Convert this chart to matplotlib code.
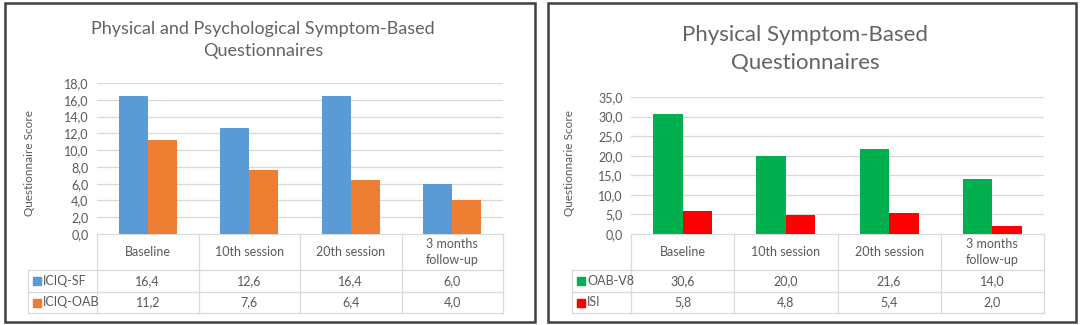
import matplotlib.pyplot as plt
import matplotlib.transforms as mtransforms
from matplotlib.patches import Rectangle

plt.rcParams["font.family"] = ["Lato", "DejaVu Sans"]

CATEGORIES = ["Baseline", "10th session", "20th session", "3 months\nfollow-up"]

LEFT_TITLE = "Physical and Psychological Symptom-Based\nQuestionnaires"
LEFT_YLABEL = "Questionnaire Score"
LEFT_SERIES = ["ICIQ-SF", "ICIQ-OAB"]
ICIQ_SF = [16.4, 12.6, 16.4, 6.0]
ICIQ_OAB = [11.2, 7.6, 6.4, 4.0]
LEFT_YMAX = 18
LEFT_YSTEP = 2

RIGHT_TITLE = "Physical Symptom-Based\nQuestionnaires"
RIGHT_YLABEL = "Questionnarie Score"
RIGHT_SERIES = ["OAB-V8", "ISI"]
OAB_V8 = [30.6, 20.0, 21.6, 14.0]
ISI = [5.8, 4.8, 5.4, 2.0]
RIGHT_YMAX = 35
RIGHT_YSTEP = 5

TEXT = "#595959"
GRID = "#D9D9D9"
W, H = 1080, 325


def fx(px):
    return px / W


def fy(px_from_top):
    return 1 - px_from_top / H


def fmt(v):
    return f"{v:.1f}".replace(".", ",")


def panel(fig, box, ax_rect, title, title_xy, title_size, ylabel, ylabel_x,
          names, series, colors, ymax, ystep, legend_left):
    x0, y0, x1, y1 = box
    fig.patches.append(Rectangle((fx(x0), fy(y1)), fx(x1 - x0), (y1 - y0) / H,
                                 transform=fig.transFigure, fill=False,
                                 edgecolor="#3F3F3F", lw=1.8))
    ax = fig.add_axes(ax_rect)
    xs = range(len(CATEGORIES))
    bw = 0.285
    for i, (vals, c) in enumerate(zip(series, colors)):
        ax.bar([x + (i - 0.5) * bw for x in xs], vals, width=bw, color=c, zorder=3)
    ax.set_xlim(-0.5, len(CATEGORIES) - 0.5)
    ax.set_ylim(0, ymax)
    ticks = list(range(0, ymax + 1, ystep))
    ax.set_yticks(ticks)
    ax.set_yticklabels([fmt(t) for t in ticks], color=TEXT, fontsize=9)
    ax.tick_params(axis="y", length=0, pad=6)
    ax.set_xticks([])
    ax.grid(axis="y", color=GRID, lw=0.9, zorder=0)
    for s in ["left", "right", "top"]:
        ax.spines[s].set_visible(False)
    ax.spines["bottom"].set_color(GRID)
    ax.set_ylabel(ylabel, color=TEXT, fontsize=8.5)
    ax.yaxis.set_label_coords(ylabel_x, 0.5, transform=fig.transFigure)
    fig.text(fx(title_xy[0]), fy(title_xy[1]), title, ha="center", va="center",
             fontsize=title_size, color="#636363", linespacing=1.45)

    # data table below the plot
    tr = mtransforms.blended_transform_factory(ax.transData, fig.transFigure)
    top, hdr, r1, r2 = fy(234), fy(270), fy(292), fy(313)
    n = len(CATEGORIES)
    kw = dict(color=GRID, lw=0.9, clip_on=False)
    for b in [k - 0.5 for k in range(n + 1)]:
        ax.plot([b, b], [top, r2], transform=tr, **kw)
    for yy in [hdr, r1, r2]:
        ax.plot([-0.5, n - 0.5], [yy, yy], transform=tr, **kw)
        fig.lines.append(plt.Line2D([fx(legend_left), ax_rect[0]], [yy, yy],
                                    transform=fig.transFigure, color=GRID, lw=0.9))
    fig.lines.append(plt.Line2D([fx(legend_left)] * 2, [hdr, r2],
                                transform=fig.transFigure, color=GRID, lw=0.9))
    for k, cat in enumerate(CATEGORIES):
        ax.text(k, (top + hdr) / 2, cat, transform=tr, ha="center", va="center",
                fontsize=9, color=TEXT, linespacing=1.3)
    for (ya, yb), name, vals, c in zip([(hdr, r1), (r1, r2)], names, series, colors):
        ym = (ya + yb) / 2
        for k, v in enumerate(vals):
            ax.text(k, ym, fmt(v), transform=tr, ha="center", va="center",
                    fontsize=9, color=TEXT)
        fig.patches.append(Rectangle((fx(legend_left + 5), ym - 4 / H), fx(8), 8 / H,
                                     transform=fig.transFigure, color=c))
        fig.text(fx(legend_left + 15), ym, name, ha="left", va="center",
                 fontsize=9, color=TEXT)
    return ax


fig = plt.figure(figsize=(W / 100, H / 100), dpi=100)

panel(fig, (5, 3, 535, 322), [fx(97), fy(234), fx(406), 151 / H],
      LEFT_TITLE, (263, 40), 13, LEFT_YLABEL, fx(35),
      LEFT_SERIES, [ICIQ_SF, ICIQ_OAB], ["#5B9BD5", "#ED7D31"],
      LEFT_YMAX, LEFT_YSTEP, 28)

panel(fig, (548, 3, 1076, 322), [fx(631), fy(234), fx(413), 137 / H],
      RIGHT_TITLE, (805, 49), 16, RIGHT_YLABEL, fx(575),
      RIGHT_SERIES, [OAB_V8, ISI], ["#00B050", "#FF0000"],
      RIGHT_YMAX, RIGHT_YSTEP, 572)

fig.savefig("out.png", dpi=100)
